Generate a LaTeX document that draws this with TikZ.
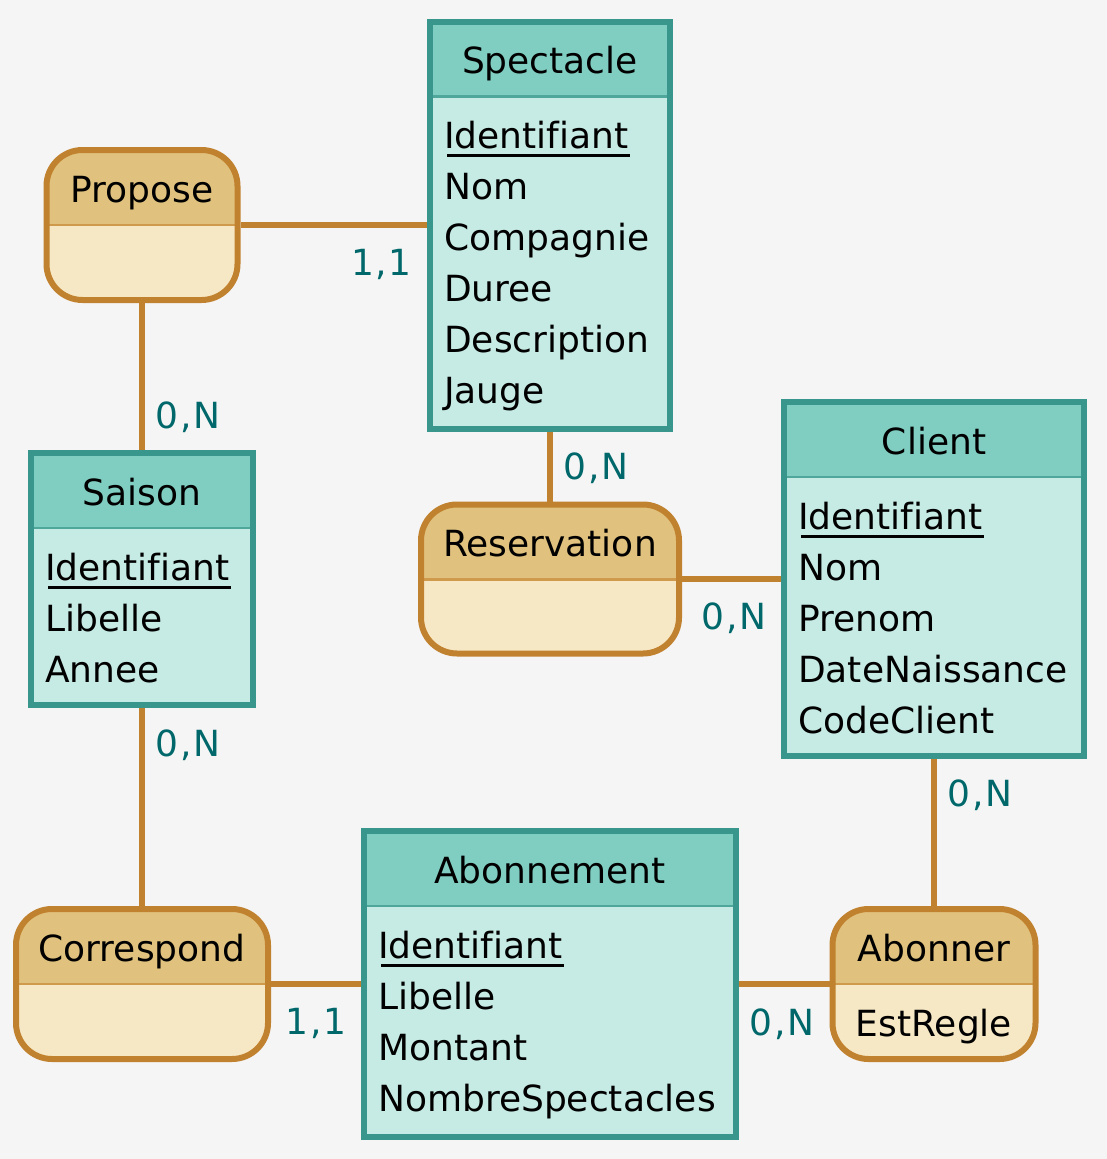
\documentclass[tikz,border=0pt]{standalone}
\usepackage{fontspec}
\setmainfont{DejaVu Sans}[Ligatures=CommonOff]
\newfontfamily\cardfont{DejaVu Sans}[Ligatures=CommonOff,LetterSpace=4]
\definecolor{bg}{HTML}{F5F5F5}
\definecolor{enthead}{HTML}{80CEC2}
\definecolor{entbody}{HTML}{C6EAE4}
\definecolor{entline}{HTML}{39968C}
\definecolor{entsep}{HTML}{4FA69B}
\definecolor{aschead}{HTML}{E0C27E}
\definecolor{ascbody}{HTML}{F7E8C5}
\definecolor{ascline}{HTML}{C1822F}
\definecolor{ascsep}{HTML}{CF9A4C}
\definecolor{cardcol}{HTML}{00676A}
\begin{document}
\begin{tikzpicture}[x=1pt,y=-1pt,font=\fontsize{36}{43}\selectfont,
		box/.style n args={4}{rectangle,inner sep=0pt,outer sep=0pt,
			path picture={\fill[#1,sharp corners] (path picture bounding box.north west) rectangle (path picture bounding box.south east);
				\fill[#2,sharp corners] (path picture bounding box.north west) rectangle ([yshift=-75pt]path picture bounding box.north east);
				\draw[#3,line width=2.5pt] ([yshift=-75pt]path picture bounding box.north west) -- ([yshift=-75pt]path picture bounding box.north east);},
			postaction={draw=#4,line width=6pt}},
		ent/.style={box={entbody}{enthead}{entsep}{entline}},
		asc/.style={box={ascbody}{aschead}{ascsep}{ascline},rounded corners=36pt},
		title/.style={anchor=base,inner sep=0pt},
		attr/.style={anchor=base west,inner sep=0pt},
		key/.style={line width=3pt},
		link/.style={draw=ascline,line width=5.5pt,shorten <=3pt,shorten >=3pt},
		card/.style={anchor=base,inner sep=0pt,text=cardcol,font=\cardfont\fontsize{36}{43}\selectfont}]
	\useasboundingbox[fill=bg] (0,0) rectangle (1107,1159);
	\node[ent,minimum width=240,minimum height=407] (spectacle) at (550,225) {};
	\node[ent,minimum width=222,minimum height=252] (saison) at (142,579) {};
	\node[ent,minimum width=300,minimum height=354] (client) at (934,579) {};
	\node[ent,minimum width=372,minimum height=306] (abonnement) at (550,984) {};
	\node[asc,minimum width=191,minimum height=150] (propose) at (142,225) {};
	\node[asc,minimum width=258,minimum height=149] (reservation) at (550,579) {};
	\node[asc,minimum width=252,minimum height=150] (correspond) at (142,984) {};
	\node[asc,minimum width=203,minimum height=150] (abonner) at (934,984) {};
	\foreach \n/\t in {spectacle/Spectacle,saison/Saison,client/Client,abonnement/Abonnement,propose/Propose,reservation/Reservation,correspond/Correspond,abonner/Abonner}
		\node[title] (\n-t) at ([yshift=-52pt]\n.north) {\t};
	\foreach \n/\l in {spectacle/{Identifiant,Nom,Compagnie,Duree,Description,Jauge},saison/{Identifiant,Libelle,Annee},client/{Identifiant,Nom,Prenom,DateNaissance,CodeClient},abonnement/{Identifiant,Libelle,Montant,NombreSpectacles}}
		{\foreach \a [count=\i] in \l
			\node[attr] (\n-\i) at ([xshift=14pt,yshift={-127pt-(\i-1)*51pt}]\n.north west) {\a};
		\draw[key] ([xshift=3pt,yshift=-7pt]\n-1.base west) -- ([xshift=1pt,yshift=-7pt]\n-1.base east);}
	\node[title] (abonner-1) at ([yshift=-127pt]abonner.north) {EstRegle};
	\draw[link] (propose) -- (spectacle);
	\draw[link] (propose) -- (saison);
	\draw[link] (spectacle) -- (reservation);
	\draw[link] (reservation) -- (client);
	\draw[link] (saison) -- (correspond);
	\draw[link] (correspond) -- (abonnement);
	\draw[link] (abonnement) -- (abonner);
	\draw[link] (client) -- (abonner);
	\node[card] (propose-spectacle) at (381.5,275) {1,1};
	\node[card] (propose-saison) at (188,428) {0,N};
	\node[card] (reservation-spectacle) at (596,479.5) {0,N};
	\node[card] (reservation-client) at (734,629.5) {0,N};
	\node[card] (correspond-saison) at (188,756) {0,N};
	\node[card] (correspond-abonnement) at (316,1034) {1,1};
	\node[card] (abonner-abonnement) at (782,1035) {0,N};
	\node[card] (abonner-client) at (980,806.5) {0,N};
\end{tikzpicture}
\end{document}
